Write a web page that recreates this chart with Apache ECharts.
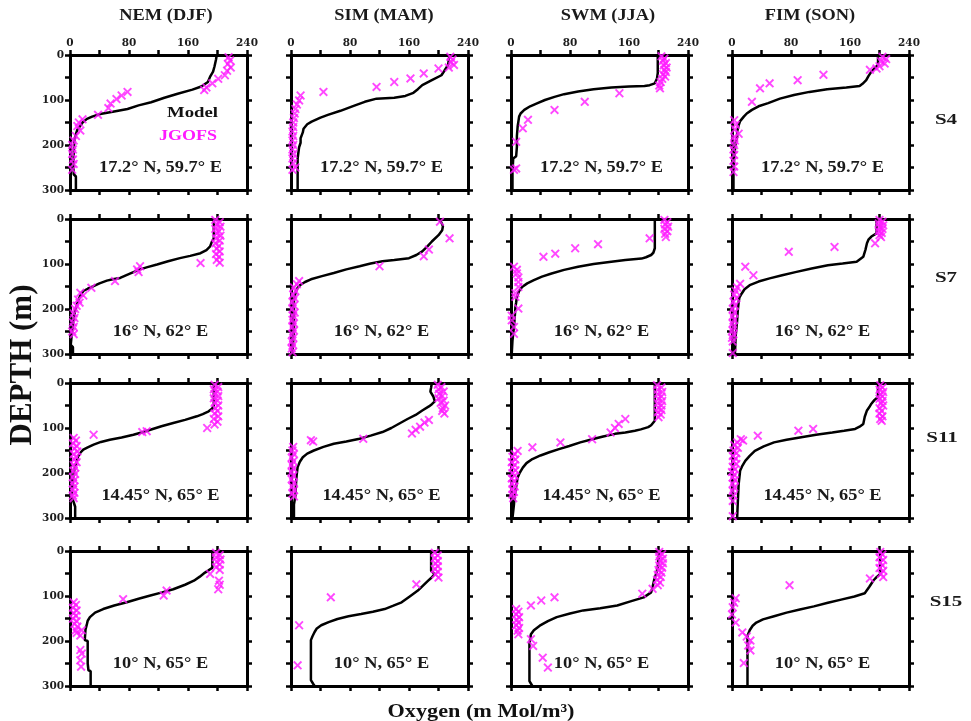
<!DOCTYPE html>
<html>
<head>
<meta charset="utf-8">
<script src="https://cdn.jsdelivr.net/npm/echarts@6/dist/echarts.min.js"></script>
<style>
  html, body { margin: 0; padding: 0; background: #fff; }
  #chart { width: 971px; height: 721px; }
</style>
</head>
<body>
<div id="chart"></div>
<script>
// Seasons (columns), stations (rows) and station positions
const seasons = ['NEM (DJF)', 'SIM (MAM)', 'SWM (JJA)', 'FIM (SON)'];
const stations = ['S4', 'S7', 'S11', 'S15'];
const locations = ['17.2° N, 59.7° E', '16° N, 62° E', '14.45° N, 65° E', '10° N, 65° E'];

// Axis tick labels
const oxygenTickLabels = [0, 80, 160, 240];
const depthTickLabels = [0, 100, 200, 300];

// Profiles as [oxygen (mMol/m3), depth (m)] pairs
// ---- S4 ----
const model_S4_NEM = [[199,0],[198,10],[196,25],[194,37],[190,48],[187,60],[178,70],[166,77],[146,86],[128,95],[110,105],[93,112],[78,120],[58,126],[41,131],[30,137],[23,142],[17,150],[14,157],[10,166],[8,176],[6,188],[5.5,199],[5,220],[4.6,251],[5,265],[8,270],[8,300]];
const obs_S4_NEM = [[215,5],[217,12],[214,20],[218,28],[213,35],[210,45],[201,53],[193,63],[185,72],[182,78],[78,82],[70,90],[63,98],[55,108],[52,118],[38,133],[17,143],[12,150],[10,158],[14,168],[8,180],[5,190],[3,200],[4,210],[3,220],[4,232],[5,242],[3,255]];
const model_S4_SIM = [[215,0],[214,10],[213,22],[208,35],[204,45],[191,56],[178,67],[172,76],[166,84],[155,91],[140,95],[116,97],[100,104],[85,113],[67,124],[50,133],[40,139],[28,148],[22,154],[17,164],[16,172],[13,185],[13,195],[11,205],[10,217],[9,230],[9,300]];
const obs_S4_SIM = [[216,4],[219,10],[217,16],[221,22],[214,28],[200,30],[180,41],[162,52],[140,60],[116,71],[44,82],[13,90],[11,101],[8,110],[6,120],[5,130],[4,140],[3,150],[3,160],[2,170],[3,180],[2,190],[3,200],[2,210],[3,220],[2,230],[3,240],[6,250],[2,255]];
const model_S4_SWM = [[199,0],[199,20],[199,40],[198,52],[195,63],[188,67],[181,69],[160,70],[136,72],[112,76],[91,81],[72,87],[59,93],[46,100],[36,107],[26,114],[18,122],[13,130],[11,137],[10,148],[9,159],[8,180],[8,204],[7,225],[3,230],[2,260],[2,300]];
const obs_S4_SWM = [[204,3],[208,8],[206,13],[210,18],[207,23],[211,28],[208,33],[210,38],[206,43],[209,48],[205,53],[203,60],[201,68],[202,74],[147,85],[100,104],[59,122],[23,144],[16,163],[7,193],[7,252],[4,255]];
const model_S4_FIM = [[198,0],[198,22],[193,30],[189,37],[185,47],[182,56],[177,64],[173,69],[155,72],[129,76],[105,82],[84,89],[65,97],[49,107],[36,114],[27,122],[20,130],[16,137],[11,147],[9,156],[7,170],[7,182],[5,195],[4,211],[3,230],[2,248],[2,300]];
const obs_S4_FIM = [[204,4],[209,9],[202,14],[207,19],[200,25],[196,30],[187,33],[124,44],[89,56],[51,63],[38,74],[27,104],[3,145],[5,155],[4,165],[9,175],[3,182],[4,190],[3,200],[2,210],[3,222],[2,235],[3,248],[2,260]];
// ---- S7 ----
const model_S7_NEM = [[195,0],[195,20],[195,43],[192,52],[190,61],[185,69],[177,76],[163,82],[149,87],[133,94],[118,101],[105,107],[95,112],[82,121],[68,131],[58,134],[50,137],[40,143],[32,149],[24,155],[18,160],[14,170],[11,182],[9,193],[7,204],[5,220],[4,234],[2,263],[1,280],[4,285],[4,300]];
const obs_S7_NEM = [[197,2],[203,7],[199,12],[204,17],[197,22],[202,27],[199,32],[204,37],[198,43],[203,48],[197,54],[202,60],[199,66],[203,72],[198,78],[202,84],[199,91],[203,97],[177,98],[95,105],[91,112],[93,118],[61,138],[29,153],[14,164],[18,170],[11,179],[13,186],[9,193],[7,200],[5,210],[6,220],[4,230],[5,240],[3,250],[5,256]];
const model_S7_SIM = [[200,0],[204,8],[206,16],[205,25],[200,36],[191,50],[185,61],[178,72],[170,80],[160,87],[140,91],[124,94],[108,99],[93,105],[75,112],[58,120],[42,127],[27,134],[19,140],[13,146],[9,153],[7,160],[5,170],[4,182],[4,220],[4,248],[3,270],[2,300]];
const obs_S7_SIM = [[202,6],[215,43],[187,68],[180,83],[120,105],[11,138],[8,145],[4,152],[6,160],[3,168],[5,176],[2,184],[4,192],[2,200],[5,208],[3,216],[2,224],[4,232],[2,240],[4,248],[2,256],[3,264],[1,272],[3,280],[1,288],[2,296]];
const model_S7_SWM = [[195,0],[195,30],[195,65],[193,75],[190,80],[183,85],[177,88],[155,91],[136,95],[112,100],[91,106],[72,113],[55,121],[42,128],[31,136],[22,143],[15,151],[11,160],[8,173],[7,185],[6,196],[5,220],[4,240],[2,270],[1,300]];
const obs_S7_SWM = [[208,2],[212,7],[209,12],[213,17],[208,22],[212,27],[209,33],[210,40],[188,43],[118,56],[87,65],[60,77],[44,84],[4,106],[8,113],[8,121],[10,130],[10,140],[10,151],[6,165],[6,173],[10,199],[1,215],[1,225],[4,240],[4,255]];
const model_S7_FIM = [[196,0],[196,15],[196,32],[189,39],[185,46],[183,54],[181,68],[178,84],[169,95],[150,99],[130,103],[108,110],[86,118],[68,125],[51,132],[36,139],[24,147],[17,156],[13,166],[10,175],[9,185],[8,200],[7,225],[5,260],[4,300]];
const obs_S7_FIM = [[200,2],[204,6],[199,10],[205,14],[200,18],[204,22],[199,27],[203,31],[200,36],[202,40],[194,54],[139,62],[77,73],[18,106],[29,125],[11,144],[7,152],[5,160],[3,168],[6,176],[2,184],[4,192],[1,200],[3,208],[1,216],[3,224],[1,232],[2,240],[1,248],[2,256],[0,264],[1,272],[1,298]];
// ---- S11 ----
const model_S11_NEM = [[195,0],[195,25],[195,52],[192,58],[188,63],[180,69],[172,74],[156,82],[140,89],[124,96],[109,104],[97,110],[86,115],[70,121],[54,126],[42,131],[32,137],[24,143],[18,148],[14,155],[11,163],[9,174],[7,185],[5,200],[4,215],[3,235],[2,252],[5,265],[7,275],[7,300]];
const obs_S11_NEM = [[196,4],[201,9],[195,14],[200,19],[196,24],[201,29],[195,34],[200,39],[196,44],[201,50],[197,56],[200,62],[196,68],[201,74],[195,80],[200,86],[196,92],[186,100],[104,107],[98,109],[32,115],[5,122],[8,128],[4,134],[9,140],[6,146],[10,152],[5,158],[8,164],[6,170],[9,176],[5,182],[7,188],[5,195],[7,202],[4,209],[6,216],[4,223],[6,230],[4,237],[6,244],[4,250],[5,256]];
const model_S11_SIM = [[191,0],[190,10],[189,19],[193,30],[195,41],[191,47],[187,52],[178,61],[169,71],[158,80],[147,90],[136,100],[124,109],[108,117],[93,124],[75,130],[58,135],[44,142],[31,150],[22,157],[16,165],[12,175],[9,187],[8,200],[7,217],[6,250],[4,270],[4,300]];
const obs_S11_SIM = [[199,4],[204,9],[200,14],[207,19],[201,24],[205,29],[200,34],[207,39],[203,44],[209,50],[206,56],[205,62],[208,68],[187,82],[181,88],[175,97],[169,104],[164,112],[98,124],[27,127],[30,130],[3,142],[2,150],[4,158],[1,166],[3,174],[1,182],[3,190],[1,198],[3,206],[1,214],[4,222],[2,230],[4,238],[2,246],[4,252]];
const model_S11_SWM = [[195,0],[195,30],[195,60],[195,84],[190,94],[186,98],[176,103],[168,106],[155,110],[141,113],[125,119],[110,125],[94,132],[79,140],[65,147],[52,154],[40,161],[29,169],[21,178],[16,188],[12,199],[9,210],[7,230],[5,250],[4,270],[2,300]];
const obs_S11_SWM = [[198,5],[204,10],[199,15],[205,20],[199,25],[204,30],[200,35],[205,40],[199,45],[204,50],[200,55],[204,60],[199,65],[203,70],[200,76],[155,80],[146,91],[141,100],[135,110],[110,125],[67,132],[29,143],[9,151],[5,158],[2,164],[6,170],[1,176],[5,182],[2,188],[6,194],[2,200],[5,206],[1,212],[4,218],[2,224],[5,230],[2,236],[4,242],[2,248],[3,256]];
const model_S11_FIM = [[198,0],[198,15],[198,31],[193,38],[189,46],[186,54],[183,61],[180,75],[178,91],[173,97],[167,102],[152,106],[136,110],[114,115],[92,121],[74,126],[57,132],[43,141],[31,151],[24,162],[18,173],[14,184],[11,195],[10,210],[9,225],[8,260],[7,300]];
const obs_S11_FIM = [[201,5],[204,10],[200,15],[205,20],[201,25],[204,30],[200,35],[204,40],[202,45],[205,50],[200,56],[203,62],[200,68],[204,74],[201,80],[203,84],[110,102],[90,106],[35,117],[15,128],[12,125],[7,132],[3,138],[8,144],[2,150],[6,156],[1,162],[5,168],[2,174],[6,180],[1,186],[4,192],[0,198],[3,204],[1,210],[4,216],[1,224],[3,232],[1,240],[2,250],[1,262],[1,296]];
// ---- S15 ----
const model_S15_NEM = [[193,0],[193,20],[193,37],[188,43],[183,48],[176,57],[168,66],[156,75],[140,85],[125,92],[109,99],[93,106],[77,114],[60,121],[45,129],[34,137],[27,147],[24,155],[23,162],[21,175],[20,198],[24,200],[24,220],[24,250],[25,265],[28,267],[28,300]];
const obs_S15_NEM = [[198,4],[203,9],[198,14],[204,19],[199,24],[203,30],[198,36],[203,42],[190,51],[202,66],[203,75],[201,85],[131,88],[127,99],[72,107],[5,114],[8,120],[4,126],[9,132],[5,138],[8,144],[4,150],[9,156],[6,162],[10,168],[8,176],[16,176],[9,182],[14,188],[14,220],[16,228],[14,243],[15,257]];
const model_S15_SIM = [[190,0],[190,20],[190,44],[195,51],[190,60],[186,66],[179,77],[172,88],[161,101],[150,114],[138,122],[127,129],[111,135],[95,140],[78,145],[63,151],[51,158],[41,165],[35,172],[32,180],[29,190],[27,198],[27,240],[27,287],[30,295],[32,300]];
const obs_S15_SIM = [[195,4],[199,10],[195,16],[199,22],[196,28],[199,34],[195,40],[199,46],[196,52],[200,59],[170,74],[54,103],[11,165],[9,254]];
const model_S15_SWM = [[201,0],[200,18],[199,36],[197,50],[194,65],[192,80],[190,92],[180,103],[162,112],[144,121],[121,127],[98,132],[80,139],[62,147],[50,156],[39,166],[31,176],[27,185],[25,207],[25,250],[25,289],[29,300]];
const obs_S15_SWM = [[201,2],[205,7],[201,12],[206,17],[202,22],[206,27],[201,32],[205,37],[200,42],[204,48],[199,53],[203,58],[198,64],[202,70],[199,76],[192,84],[178,95],[59,103],[41,110],[27,121],[7,129],[10,135],[7,141],[11,147],[8,153],[10,159],[7,165],[11,171],[9,177],[10,185],[27,196],[30,211],[43,237],[50,259]];
const model_S15_FIM = [[201,0],[201,25],[201,51],[196,58],[192,65],[186,80],[180,94],[166,101],[148,108],[130,115],[111,123],[92,130],[74,137],[57,145],[42,152],[33,159],[28,166],[24,176],[21,188],[21,240],[21,300]];
const obs_S15_FIM = [[201,2],[204,8],[200,14],[205,20],[201,26],[204,32],[200,38],[205,44],[202,51],[205,58],[187,61],[78,76],[5,105],[3,115],[1,125],[0,141],[5,159],[14,181],[20,190],[25,199],[22,210],[25,221],[16,249]];

// Panels by station (row) and season (column)
const modelProfiles = [
  [model_S4_NEM, model_S4_SIM, model_S4_SWM, model_S4_FIM],
  [model_S7_NEM, model_S7_SIM, model_S7_SWM, model_S7_FIM],
  [model_S11_NEM, model_S11_SIM, model_S11_SWM, model_S11_FIM],
  [model_S15_NEM, model_S15_SIM, model_S15_SWM, model_S15_FIM]
];
const jgofsProfiles = [
  [obs_S4_NEM, obs_S4_SIM, obs_S4_SWM, obs_S4_FIM],
  [obs_S7_NEM, obs_S7_SIM, obs_S7_SWM, obs_S7_FIM],
  [obs_S11_NEM, obs_S11_SIM, obs_S11_SWM, obs_S11_FIM],
  [obs_S15_NEM, obs_S15_SIM, obs_S15_SWM, obs_S15_FIM]
];

// ---------- layout ----------
const colLeft = [70, 291, 511, 732];
const colWidth = 177;
const rowTop = [55, 219, 383, 551];
const rowHeight = 135;
const titleX = [166, 384, 608, 810];
const stationLabelX = [946, 946, 942, 946];
const stationLabelY = [120, 278, 438, 602];

const SERIF = '"Liberation Serif", "Times New Roman", serif';
const MAGENTA = '#ff1aff';
const CROSS = 'path://M0,1.5L1.5,0L5,3.5L8.5,0L10,1.5L6.5,5L10,8.5L8.5,10L5,6.5L1.5,10L0,8.5L3.5,5Z';

const tickLabelStyle = {
  fontFamily: 'DejaVu Serif', fontWeight: 'bold', fontSize: 10.5, color: '#1c1c1c'
};

const grid = [], xAxis = [], yAxis = [], series = [], graphic = [];

function axisCommon() {
  return {
    axisLine: { show: true, onZero: false, lineStyle: { color: '#000', width: 3 } },
    axisTick: { show: true, length: 5, lineStyle: { color: '#000', width: 2.5 } },
    splitLine: { show: false }
  };
}

for (let r = 0; r < 4; r++) {
  for (let c = 0; c < 4; c++) {
    const p = r * 4 + c;
    grid.push({ left: colLeft[c], top: rowTop[r], width: colWidth, height: rowHeight });

    ['top', 'bottom'].forEach((pos, k) => {
      xAxis.push(Object.assign(axisCommon(), {
        gridIndex: p, type: 'value', position: pos, min: 0, max: 240, interval: 40,
        axisLabel: Object.assign({
          show: r === 0 && k === 0, margin: 6,
          formatter: v => oxygenTickLabels.includes(v) ? String(v) : ''
        }, tickLabelStyle)
      }));
    });
    ['left', 'right'].forEach((pos, k) => {
      yAxis.push(Object.assign(axisCommon(), {
        gridIndex: p, type: 'value', position: pos, inverse: true, min: 0, max: 300, interval: 50,
        axisLabel: Object.assign({
          show: c === 0 && k === 0, margin: 6,
          formatter: v => depthTickLabels.includes(v) ? String(v) : ''
        }, tickLabelStyle)
      }));
    });

    series.push({
      name: 'Model', type: 'line', xAxisIndex: 2 * p, yAxisIndex: 2 * p,
      data: modelProfiles[r][c], showSymbol: false, symbol: 'none', silent: true,
      lineStyle: { color: '#000', width: 2.5 }, z: 2
    });
    series.push({
      name: 'JGOFS', type: 'scatter', xAxisIndex: 2 * p, yAxisIndex: 2 * p,
      data: jgofsProfiles[r][c], symbol: CROSS, symbolSize: 9, clip: false,
      itemStyle: { color: MAGENTA }, z: 3
    });

    // station position, lower part of each panel
    graphic.push({
      type: 'text', x: colLeft[c] + colWidth / 2 + 2, y: rowTop[r] + 113, scaleX: 1.08,
      style: { text: locations[r], font: 'bold 17px ' + SERIF, fill: '#1a1a1a',
               textAlign: 'center', textVerticalAlign: 'middle', align: 'center', verticalAlign: 'middle' }
    });
  }
}

// Season headings
seasons.forEach((s, c) => graphic.push({
  type: 'text', x: titleX[c], y: 16, scaleX: 1.08,
  style: { text: s, font: 'bold 17px ' + SERIF, fill: '#1a1a1a',
           textAlign: 'center', textVerticalAlign: 'middle', align: 'center', verticalAlign: 'middle' }
}));
// Station names on the right
stations.forEach((s, r) => graphic.push({
  type: 'text', x: stationLabelX[r], y: stationLabelY[r], scaleX: 1.5,
  style: { text: s, font: 'bold 14px ' + SERIF, fill: '#1a1a1a',
           textAlign: 'center', textVerticalAlign: 'middle', align: 'center', verticalAlign: 'middle' }
}));
// Key inside the first panel
graphic.push({
  type: 'text', x: 218, y: 113, scaleX: 1.25,
  style: { text: 'Model', font: 'bold 15px ' + SERIF, fill: '#111',
           textAlign: 'right', textVerticalAlign: 'middle', align: 'right', verticalAlign: 'middle' }
});
graphic.push({
  type: 'text', x: 217, y: 136, scaleX: 1.2,
  style: { text: 'JGOFS', font: 'bold 15px ' + SERIF, fill: MAGENTA,
           textAlign: 'right', textVerticalAlign: 'middle', align: 'right', verticalAlign: 'middle' }
});
// Axis titles
graphic.push({
  type: 'text', x: 23, y: 365, rotation: Math.PI / 2,
  style: { text: 'DEPTH (m)', font: 'bold 31px ' + SERIF, fill: '#111',
           textAlign: 'center', textVerticalAlign: 'middle', align: 'center', verticalAlign: 'middle' }
});
graphic.push({
  type: 'text', x: 481, y: 712, scaleX: 1.17,
  style: { text: 'Oxygen (m Mol/m³)', font: 'bold 19px ' + SERIF, fill: '#111',
           textAlign: 'center', textVerticalAlign: 'middle', align: 'center', verticalAlign: 'middle' }
});

const chart = echarts.init(document.getElementById('chart'), null, { renderer: 'canvas' });
chart.setOption({
  animation: false,
  backgroundColor: '#fff',
  grid, xAxis, yAxis, series, graphic
});
</script>
</body>
</html>
